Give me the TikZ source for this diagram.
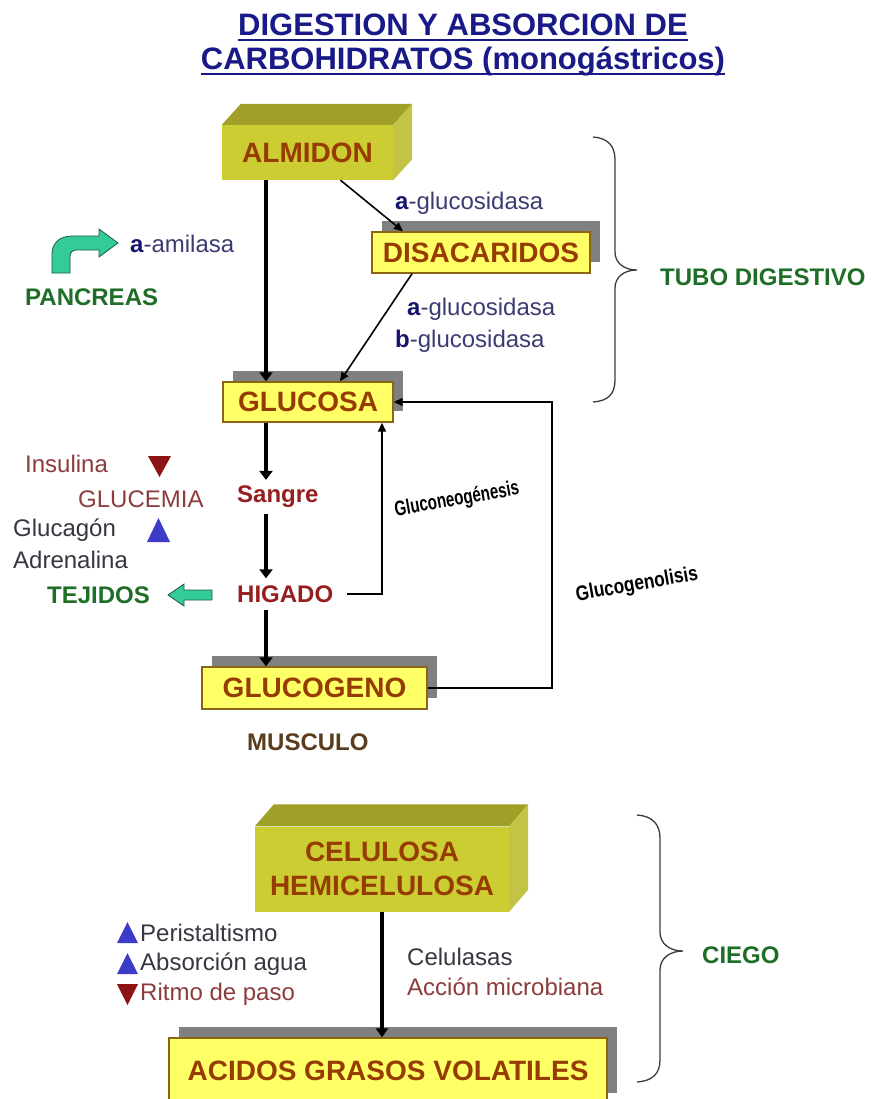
\documentclass[tikz,border=0pt]{standalone}
\usepackage{fontspec}
\setmainfont{Liberation Sans}
\usetikzlibrary{arrows.meta,calc,shadows}
\definecolor{titleblue}{RGB}{25,25,135}
\definecolor{boxtext}{RGB}{150,60,0}
\definecolor{frontc}{RGB}{204,204,51}
\definecolor{topc}{RGB}{160,160,40}
\definecolor{sidec}{RGB}{195,195,70}
\definecolor{flatfill}{RGB}{255,255,102}
\definecolor{flatborder}{RGB}{140,100,20}
\definecolor{shadowgray}{RGB}{128,128,128}
\definecolor{lblblue}{RGB}{60,60,115}
\definecolor{boldblue}{RGB}{20,20,110}
\definecolor{darkred}{RGB}{150,30,30}
\definecolor{brownred}{RGB}{140,60,60}
\definecolor{darkgraytxt}{RGB}{55,55,65}
\definecolor{greentxt}{RGB}{30,110,40}
\definecolor{arrowgreen}{RGB}{51,204,153}
\definecolor{arrowedge}{RGB}{30,90,70}
\definecolor{musc}{RGB}{90,60,30}
\definecolor{trired}{RGB}{140,20,20}
\definecolor{triblue}{RGB}{60,60,200}
\definecolor{bracec}{RGB}{60,60,60}
\newcommand{\fsz}[1]{\fontsize{#1}{#1}\selectfont}
\newcommand{\cubefaces}[3]{%
  \fill[topc] (#1.north west) -- ++(#2,-#3) -- ($(#1.north east)+(#2,-#3)$) -- (#1.north east) -- cycle;
  \fill[sidec] (#1.north east) -- ++(#2,-#3) -- ($(#1.south east)+(#2,-#3)$) -- (#1.south east) -- cycle;}
\begin{document}
\begin{tikzpicture}[x=1pt,y=-1pt,
  lbl/.style={anchor=west,inner sep=0pt,font=\fsz{24}},
  boxtxt/.style={font=\bfseries\fsz{28},text=boxtext},
  cube/.style={boxtxt,fill=frontc,inner sep=0pt},
  flat/.style={boxtxt,draw=flatborder,line width=1.4pt,fill=flatfill,inner sep=0pt,
    general shadow={shadow xshift=10pt,shadow yshift=11pt,fill=shadowgray}},
  thickarrow/.style={line width=4pt,-{Triangle[length=9pt,width=13pt]}},
  midarrow/.style={line width=3.5pt,-{Triangle[length=9pt,width=12pt]}},
  thinarrow/.style={line width=1.6pt,-{Triangle[length=9pt,width=8pt]}},
  brace/.style={draw=bracec,line width=1.3pt},
  rotlbl/.style={font=\bfseries\fsz{21},inner sep=0pt}
]
\useasboundingbox (0,0) rectangle (875,1099);
\fill[white] (0,0) rectangle (875,1099);
\clip (0,0) rectangle (875,1099);

% title
\node[font=\bfseries\fsz{31},text=titleblue,anchor=base,inner sep=0pt] (t1) at (463,36) {DIGESTION Y ABSORCION DE};
\node[font=\bfseries\fsz{31},text=titleblue,anchor=base,inner sep=0pt] (t2) at (463,70) {CARBOHIDRATOS (monogástricos)};
\draw[titleblue,line width=2.6pt] ([yshift=-4pt]t1.base west) -- ([yshift=-4pt]t1.base east);
\draw[titleblue,line width=2.6pt] ([yshift=-4pt]t2.base west) -- ([yshift=-4pt]t2.base east);

% boxes
\node[cube,minimum width=171,minimum height=55] (almidon) at (307.5,152.5) {ALMIDON};
\cubefaces{almidon}{19}{21}
\node[flat,minimum width=218,minimum height=41] (disac) at (481,252.5) {DISACARIDOS};
\node[flat,minimum width=170,minimum height=40] (glucosa) at (308,402) {GLUCOSA};
\node[flat,minimum width=225,minimum height=42] (glucogeno) at (314.5,688) {GLUCOGENO};
\node[cube,minimum width=254,minimum height=85,align=center,font=\bfseries\fontsize{28}{34}\selectfont] (celulosa) at (382,869) {CELULOSA\\HEMICELULOSA};
\cubefaces{celulosa}{19}{22}
\node[flat,minimum width=438,minimum height=66] (acidos) at (388,1071) {ACIDOS GRASOS VOLATILES};

% labels top part
\node[lbl,text=lblblue] (ag1) at (395,203) {{\bfseries\color{boldblue}a}-glucosidasa};
\node[lbl,text=lblblue] (amil) at (130,244) {{\bfseries\color{boldblue}a}-amilasa};
\node[lbl,font=\bfseries\fsz{24},text=greentxt] (pancreas) at (25,297) {PANCREAS};
\node[lbl,text=lblblue] (ag2) at (407,309) {{\bfseries\color{boldblue}a}-glucosidasa};
\node[lbl,text=lblblue] (bg) at (395,341) {{\bfseries\color{boldblue}b}-glucosidasa};

\node[lbl,text=brownred] (insulina) at (25,464) {Insulina};
\node[lbl,text=brownred] (glucemia) at (78,499) {GLUCEMIA};
\node[lbl,text=darkgraytxt] (glucagon) at (13,530) {Glucagón};
\node[lbl,text=darkgraytxt] (adrenalina) at (13,560) {Adrenalina};
\node[lbl,font=\bfseries\fsz{24},text=greentxt] (tejidos) at (47,595) {TEJIDOS};
\node[lbl,font=\bfseries\fsz{24},text=darkred,inner ysep=6pt] (sangre) at (237,497) {Sangre};
\node[lbl,font=\bfseries\fsz{24},text=darkred,inner ysep=7pt] (higado) at (237,594) {HIGADO};
\node[lbl,font=\bfseries\fsz{24},text=musc] (musculo) at (247,742) {MUSCULO};
\node[lbl,font=\bfseries\fsz{24},text=greentxt] (tubo) at (660,277) {TUBO DIGESTIVO};

\node[rotlbl,rotate=10,xscale=0.72] (gneo) at (457,500) {Gluconeogénesis};
\node[rotlbl,rotate=10,xscale=0.82] (glis) at (637,585) {Glucogenolisis};

% triangles
\fill[trired] (148,456) -- (171,456) -- (159.5,477) -- cycle;
\fill[triblue] (147,542) -- (170,542) -- (158.5,518) -- cycle;

% pancreas bent arrow
\draw[fill=arrowgreen,draw=arrowedge,line width=0.8pt]
  (52,273) -- (52,254) .. controls (52,243) and (60,236) .. (72,236) -- (99,236) -- (99,229)
  -- (118,243) -- (99,257) -- (99,250) -- (76,250) .. controls (72,250) and (70,253) .. (70,257)
  -- (70,273) -- cycle;
% tejidos block arrow
\draw[fill=arrowgreen,draw=arrowedge,line width=0.8pt]
  (168,595) -- (184,584) -- (184,590) -- (212,590) -- (212,600) -- (184,600) -- (184,606) -- cycle;

% connectors
\coordinate (ax) at (266,0);
\coordinate (gx) at (382,0);
\coordinate (gy) at (552,0);
\draw[thickarrow] (almidon.south -| ax) -- (glucosa.north -| ax);
\draw[thinarrow] ([xshift=33pt]almidon.south) -- ([xshift=-78pt]disac.north);
\draw[thinarrow] ([xshift=-69pt]disac.south) -- ([xshift=32pt]glucosa.north);
\draw[thickarrow] (glucosa.south -| ax) -- (sangre.north -| ax);
\draw[thickarrow] (sangre.south -| ax) -- (higado.north -| ax);
\draw[thickarrow] (higado.south -| ax) -- (glucogeno.north -| ax);
\draw[thinarrow] ([xshift=14pt]higado.east) -- (gx |- higado.east) -- (gx |- glucosa.south);
\draw[thinarrow] (glucogeno.east) -- (gy |- glucogeno.east) -- (gy |- glucosa.east) -- (glucosa.east);
\draw[midarrow] (celulosa.south) -- (celulosa.south |- acidos.north);

% braces
\draw[brace] (593,137) .. controls (608,138) and (615,146) .. (615,160) -- (615,252)
  .. controls (615,263) and (624,270) .. (637,270) .. controls (624,270) and (615,277) .. (615,288)
  -- (615,380) .. controls (615,394) and (608,401) .. (593,402);
\draw[brace] (637,815) .. controls (652,816) and (660,824) .. (660,838) -- (660,932)
  .. controls (660,944) and (670,951) .. (683,951) .. controls (670,951) and (660,958) .. (660,970)
  -- (660,1060) .. controls (660,1074) and (652,1081) .. (637,1082);
\node[lbl,font=\bfseries\fsz{24},text=greentxt] (ciego) at (702,955) {CIEGO};

% bottom left list
\fill[triblue] (117,943) -- (138,943) -- (127.5,922) -- cycle;
\node[lbl,text=darkgraytxt] (peri) at (140,933) {Peristaltismo};
\fill[triblue] (117,974) -- (138,974) -- (127.5,953) -- cycle;
\node[lbl,text=darkgraytxt] (absor) at (140,964) {Absorción agua};
\fill[trired] (117,984) -- (138,984) -- (127.5,1005) -- cycle;
\node[lbl,text=brownred] (ritmo) at (140,994) {Ritmo de paso};
\node[lbl,text=darkgraytxt] (celul) at (407,957) {Celulasas};
\node[lbl,text=brownred] (accion) at (407,987) {Acción microbiana};
\end{tikzpicture}
\end{document}
